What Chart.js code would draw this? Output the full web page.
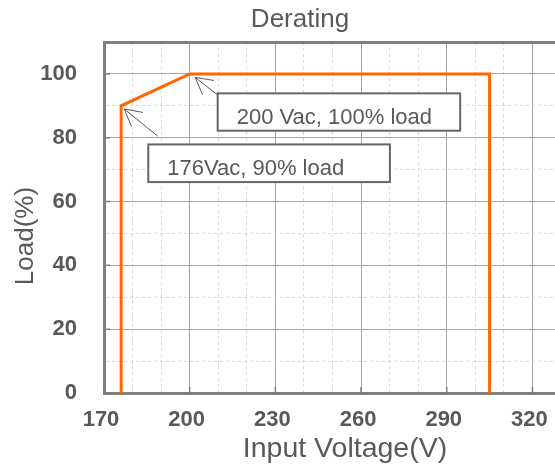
<!DOCTYPE html>
<html lang="en">
<head>
<meta charset="UTF-8">
<title>Derating</title>
<script src="https://cdn.jsdelivr.net/npm/chart.js"></script>
<style>
  body { margin: 0; background: #fff; }
  #wrap { width: 555px; height: 468px; }
</style>
</head>
<body>
<div id="wrap"><canvas id="derating" width="555" height="468"></canvas></div>
<script>
// derating curve
const voltage = [176, 176, 200, 305, 305];
const load = [0, 90, 100, 100, 0];

// labelled ticks
const xTicks = [170, 200, 230, 260, 290, 320];
const yTicks = [0, 20, 40, 60, 80, 100];

// callouts (box corners and arrow tail -> head in data units)
const noteTexts = ['200 Vac, 100% load', '176Vac, 90% load'];
const noteBoxes = [[209.8, 93.9, 294.7, 82.2], [185.5, 77.9, 270.1, 66.1]];
const noteArrows = [[209.8, 93.4, 201.9, 98.9], [188.8, 80.5, 177.1, 89.0]];

const GREY_TXT = '#595959';
const FONT = '"Liberation Sans", Arial, sans-serif';

function isMajorX(v) { return (v - 170) % 30 === 0; }
function isMajorY(v) { return v % 20 === 0 || v === 110; }

const extras = {
    id: 'extras',
    afterDraw(chart) {
        const ctx = chart.ctx;
        const sx = chart.scales.x;
        const sy = chart.scales.y;
        const area = chart.chartArea;
        ctx.save();

        // small inward tick marks
        ctx.strokeStyle = '#7f7f7f';
        ctx.lineWidth = 1.5;
        ctx.beginPath();
        yTicks.forEach(v => {
            const py = sy.getPixelForValue(v);
            ctx.moveTo(area.left, py);
            ctx.lineTo(area.left + 6, py);
        });
        xTicks.forEach(v => {
            const px = sx.getPixelForValue(v);
            ctx.moveTo(px, area.bottom);
            ctx.lineTo(px, area.bottom - 6);
        });
        ctx.stroke();

        // callouts
        ctx.font = '22px ' + FONT;
        ctx.textAlign = 'left';
        ctx.textBaseline = 'alphabetic';
        noteTexts.forEach((t, i) => {
            const b = noteBoxes[i];
            const x1 = sx.getPixelForValue(b[0]), y1 = sy.getPixelForValue(b[1]);
            const x2 = sx.getPixelForValue(b[2]), y2 = sy.getPixelForValue(b[3]);
            ctx.fillStyle = '#fff';
            ctx.fillRect(x1, y1, x2 - x1, y2 - y1);
            ctx.strokeStyle = '#666';
            ctx.lineWidth = 2;
            ctx.strokeRect(x1, y1, x2 - x1, y2 - y1);
            ctx.fillStyle = GREY_TXT;
            ctx.fillText(t, x1 + 19, (y1 + y2) / 2 + 12);

            const a = noteArrows[i];
            const tx = sx.getPixelForValue(a[0]), ty = sy.getPixelForValue(a[1]);
            const hx = sx.getPixelForValue(a[2]), hy = sy.getPixelForValue(a[3]);
            const ang = Math.atan2(ty - hy, tx - hx);
            ctx.strokeStyle = GREY_TXT;
            ctx.lineWidth = 1;
            ctx.beginPath();
            ctx.moveTo(tx, ty);
            ctx.lineTo(hx, hy);
            [-0.5, 0.5].forEach(d => {
                ctx.moveTo(hx, hy);
                ctx.lineTo(hx + 19 * Math.cos(ang + d), hy + 19 * Math.sin(ang + d));
            });
            ctx.stroke();
        });

        // titles
        ctx.fillStyle = GREY_TXT;
        ctx.textAlign = 'center';
        ctx.font = '26px ' + FONT;
        ctx.fillText('Derating', 300, 27);
        ctx.font = '28.5px ' + FONT;
        ctx.fillText('Input Voltage(V)', 345, 457);
        ctx.translate(33, 236);
        ctx.rotate(-Math.PI / 2);
        ctx.font = '26px ' + FONT;
        ctx.fillText('Load(%)', 0, 0);
        ctx.restore();
    }
};

const points = voltage.map((v, i) => ({ x: v, y: load[i] }));

new Chart(document.getElementById('derating'), {
    type: 'line',
    data: {
        datasets: [{
            data: points,
            borderColor: '#ff6600',
            borderWidth: 3,
            pointRadius: 0,
            fill: false,
            tension: 0
        }]
    },
    options: {
        responsive: false,
        animation: false,
        devicePixelRatio: 1,
        layout: { padding: { top: 42, right: 0, left: 0, bottom: 0 } },
        plugins: {
            legend: { display: false },
            title: { display: false },
            tooltip: { enabled: false }
        },
        scales: {
            x: {
                type: 'linear',
                min: 170,
                max: 327.9,
                afterFit: s => {
                    s.height = 75;
                    s.paddingLeft = 0;
                    s.paddingRight = 0;
                },
                ticks: {
                    stepSize: 10,
                    includeBounds: false,
                    autoSkip: false,
                    maxRotation: 0,
                    padding: 14,
                    labelOffset: -3,
                    color: GREY_TXT,
                    font: { family: FONT, size: 22, weight: 'bold' },
                    callback: v => xTicks.includes(v) ? v : ''
                },
                grid: {
                    drawTicks: false,
                    color: c => c.tick && isMajorX(c.tick.value) ? '#a6a6a6' : '#d9d9d9',
                    lineWidth: 1
                },
                border: {
                    display: true,
                    color: '#7f7f7f',
                    width: 3,
                    dash: c => (c.tick && !isMajorX(c.tick.value)) ? [3, 3] : []
                }
            },
            y: {
                min: 0,
                max: 110,
                afterFit: s => {
                    s.width = 104;
                    s.paddingTop = 0;
                    s.paddingBottom = 0;
                },
                ticks: {
                    stepSize: 10,
                    autoSkip: false,
                    padding: 27,
                    color: GREY_TXT,
                    font: { family: FONT, size: 22, weight: 'bold' },
                    callback: v => yTicks.includes(v) ? v : ''
                },
                grid: {
                    drawTicks: false,
                    color: c => {
                        if (!c.tick) return '#a6a6a6';
                        if (c.tick.value === 110) return '#7f7f7f';
                        return isMajorY(c.tick.value) ? '#a6a6a6' : '#d9d9d9';
                    },
                    lineWidth: c => c.tick && c.tick.value === 110 ? 3 : 1
                },
                border: {
                    display: true,
                    color: '#7f7f7f',
                    width: 3,
                    dash: c => (c.tick && !isMajorY(c.tick.value)) ? [3, 3] : []
                }
            }
        }
    },
    plugins: [extras]
});
</script>
</body>
</html>
